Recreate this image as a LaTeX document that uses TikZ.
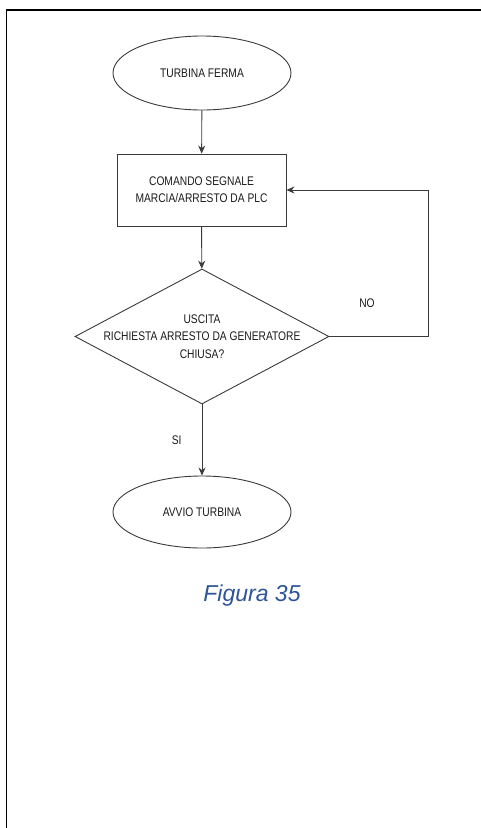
\documentclass[tikz,border=0pt]{standalone}
\usepackage{fontspec}
\setmainfont{Liberation Sans}[FakeStretch=0.82]
\newfontfamily\capfont{Liberation Sans}
\usepackage{xcolor}
\usetikzlibrary{arrows.meta,positioning,shapes.geometric}
\definecolor{ink}{HTML}{1A1A1A}
\definecolor{edge}{HTML}{3A3A3A}
\definecolor{capblue}{HTML}{2E5596}
\tikzset{
  term/.style={draw=edge,ellipse,line width=0.9pt,inner sep=0pt,minimum width=178pt,minimum height=#1,font=\fontsize{12.5}{17}\selectfont,text=ink},
  proc/.style={draw=edge,rectangle,line width=0.9pt,minimum width=169pt,minimum height=72pt,align=center,font=\fontsize{12.5}{17}\selectfont,text=ink},
  choice/.style={draw=edge,diamond,line width=0.9pt,inner sep=0pt,minimum width=254pt,minimum height=135pt},
  tag/.style={align=center,font=\fontsize{12.5}{17.5}\selectfont,text=ink,inner sep=0pt},
  flow/.style={-{Stealth[length=8pt,width=7pt]},line width=0.9pt,draw=edge},
  frame/.style={line width=1.8pt,draw=black}
}
\begin{document}
\begin{tikzpicture}[x=1pt,y=-1pt]
  \useasboundingbox (0,0) rectangle (481,828);
  \draw[frame] (6.5,829) -- (6.5,10) -- (482,10);
  \node[term=74pt] (start) at (202,73) {TURBINA FERMA};
  \node[proc] (cmd) at (201.5,190) {COMANDO SEGNALE\\MARCIA/ARRESTO DA PLC};
  \node[choice] (dec) at (202,336.5) {};
  \node[tag] (ask) at (dec) {USCITA\\RICHIESTA ARRESTO DA GENERATORE\\CHIUSA?};
  \node[term=72pt] (run) at (202,512) {AVVIO TURBINA};
  \coordinate (back) at (428,190);
  \draw[flow] (start) -- (cmd);
  \draw[flow] (cmd) -- (dec);
  \draw[flow] (dec) -- (run) node[tag,pos=0.5,left=20pt] (yes) {SI};
  \draw[flow] (dec.east) -| (back) -- (cmd.east);
  \node[tag] (no) at (367,303) {NO};
  \node[font=\capfont\itshape\fontsize{23}{28}\selectfont,text=capblue] (cap) at (252,596) {Figura 35};
\end{tikzpicture}
\end{document}
